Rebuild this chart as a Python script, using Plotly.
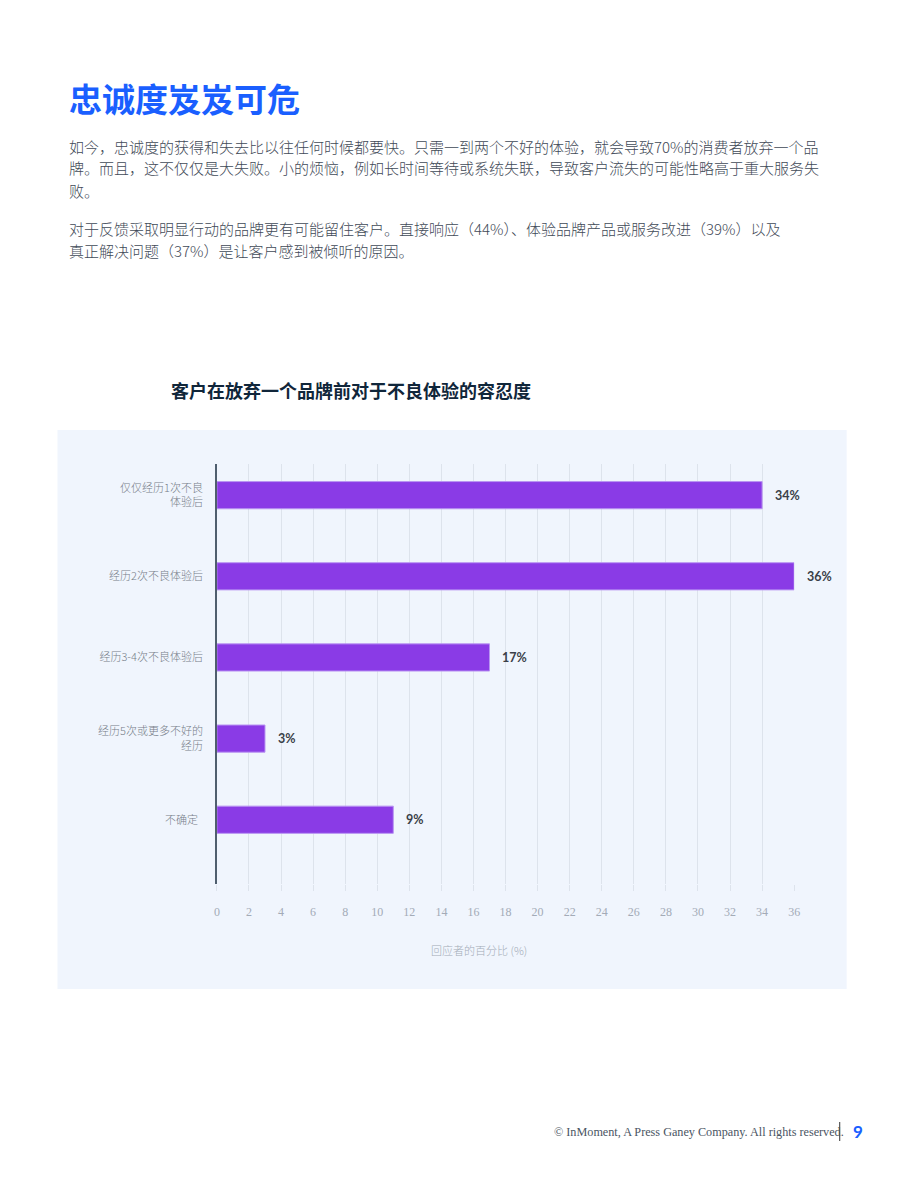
import plotly.graph_objects as go

# ---- data ----
categories = ["仅仅经历1次不良<br>体验后", "经历2次不良体验后", "经历3-4次不良体验后",
              "经历5次或更多不好的<br>经历", "不确定\u00a0\u00a0"]
bar_values = [34, 36, 17, 3, 11]          # bar lengths as drawn in the picture
bar_labels = ["34%", "36%", "17%", "3%", "9%"]
x_ticks = list(range(0, 37, 2))

heading = "忠诚度岌岌可危"
body_lines = [
    "如今，忠诚度的获得和失去比以往任何时候都要快。只需一到两个不好的体验，就会导致70%的消费者放弃一个品",
    "牌。而且，这不仅仅是大失败。小的烦恼，例如长时间等待或系统失联，导致客户流失的可能性略高于重大服务失",
    "败。",
    "对于反馈采取明显行动的品牌更有可能留住客户。直接响应（44%）、体验品牌产品或服务改进（39%）以及",
    "真正解决问题（37%）是让客户感到被倾听的原因。",
]
body_y = [146, 168, 190, 228, 250]
chart_title = "客户在放弃一个品牌前对于不良体验的容忍度"
x_title = "回应者的百分比 (%)"
footer = "© InMoment, A Press Ganey Company. All rights reserved."
page_no = "9"

W, H = 920, 1191
CJK = "Noto Sans CJK SC, Noto Sans, sans-serif"

def px(x):
    return x / W

def py(y):
    return 1 - y / H

fig = go.Figure()
fig.add_trace(go.Bar(
    x=bar_values, y=categories, orientation="h",
    marker=dict(color="#8a3be6", line=dict(color="#b995f2", width=1)),
    width=0.335, hoverinfo="skip",
))

annotations = []
# data labels
for v, lab, c in zip(bar_values, bar_labels, categories):
    annotations.append(dict(x=v, y=c, xref="x", yref="y", text="<b>" + lab + "</b>",
                            showarrow=False, xanchor="left", xshift=11,
                            font=dict(family="Lato, " + CJK, size=12.5, color="#3a3f48")))
# heading
annotations.append(dict(x=px(65), y=py(98), xref="paper", yref="paper", text="<b>" + heading + "</b>",
                        showarrow=False, xanchor="left", yanchor="middle",
                        font=dict(family=CJK, size=33, color="#1a5fff")))
for t, yy in zip(body_lines, body_y):
    annotations.append(dict(x=px(65), y=py(yy), xref="paper", yref="paper", text=t,
                            showarrow=False, xanchor="left", yanchor="middle",
                            font=dict(family=CJK, size=15, color="#3f4a57", weight=300)))
annotations.append(dict(x=px(351), y=py(390), xref="paper", yref="paper", text="<b>" + chart_title + "</b>",
                        showarrow=False, xanchor="center", yanchor="middle",
                        font=dict(family=CJK, size=18, color="#10263a")))
annotations.append(dict(x=px(481), y=py(950), xref="paper", yref="paper", text=x_title,
                        showarrow=False, xanchor="center", yanchor="middle",
                        font=dict(family=CJK, size=11, color="#a3abb7", weight=300)))
annotations.append(dict(x=px(851), y=py(1132), xref="paper", yref="paper", text=footer,
                        showarrow=False, xanchor="right", yanchor="middle",
                        font=dict(family="Liberation Serif, DejaVu Serif, serif", size=12.2, color="#4a5563")))
annotations.append(dict(x=px(856), y=py(1131), xref="paper", yref="paper", text="<b>" + page_no + "</b>",
                        showarrow=False, xanchor="left", yanchor="middle",
                        font=dict(family="Lato, sans-serif", size=17, color="#1a5fff")))

shapes = [
    dict(type="rect", xref="paper", yref="paper", x0=px(55), x1=px(852), y0=py(989), y1=py(430),
         fillcolor="#f0f5fd", line=dict(width=0), layer="below"),
    dict(type="line", xref="paper", yref="paper", x0=px(845), x1=px(845), y0=py(1141), y1=py(1122),
         line=dict(color="#333333", width=1)),
]

fig.update_layout(
    width=W, height=H,
    margin=dict(l=0, r=0, t=0, b=0),
    paper_bgcolor="white", plot_bgcolor="rgba(0,0,0,0)",
    showlegend=False,
    annotations=annotations, shapes=shapes,
    font=dict(family=CJK),
    bargap=0.6,
)
fig.update_xaxes(
    domain=[px(216), px(799)], range=[0, 36], tickvals=x_ticks,
    showgrid=True, gridcolor="#dde3ec", gridwidth=1, zeroline=False,
    ticks="outside", ticklen=6, tickcolor="#dde3ec", ticklabelstandoff=11,
    tickfont=dict(family="Liberation Serif, serif", size=12, color="#a3abb7"),
    showline=False, fixedrange=True,
)
fig.update_yaxes(
    domain=[py(884), py(464)], range=[4.792, -0.384], type="category",
    showgrid=False, showline=True, linecolor="#4f5e6e", linewidth=1.5,
    ticks="", ticklabelstandoff=10,
    tickfont=dict(family=CJK, size=11, color="#767d88", weight=300),
    fixedrange=True,
)

fig.write_html("out.html")
